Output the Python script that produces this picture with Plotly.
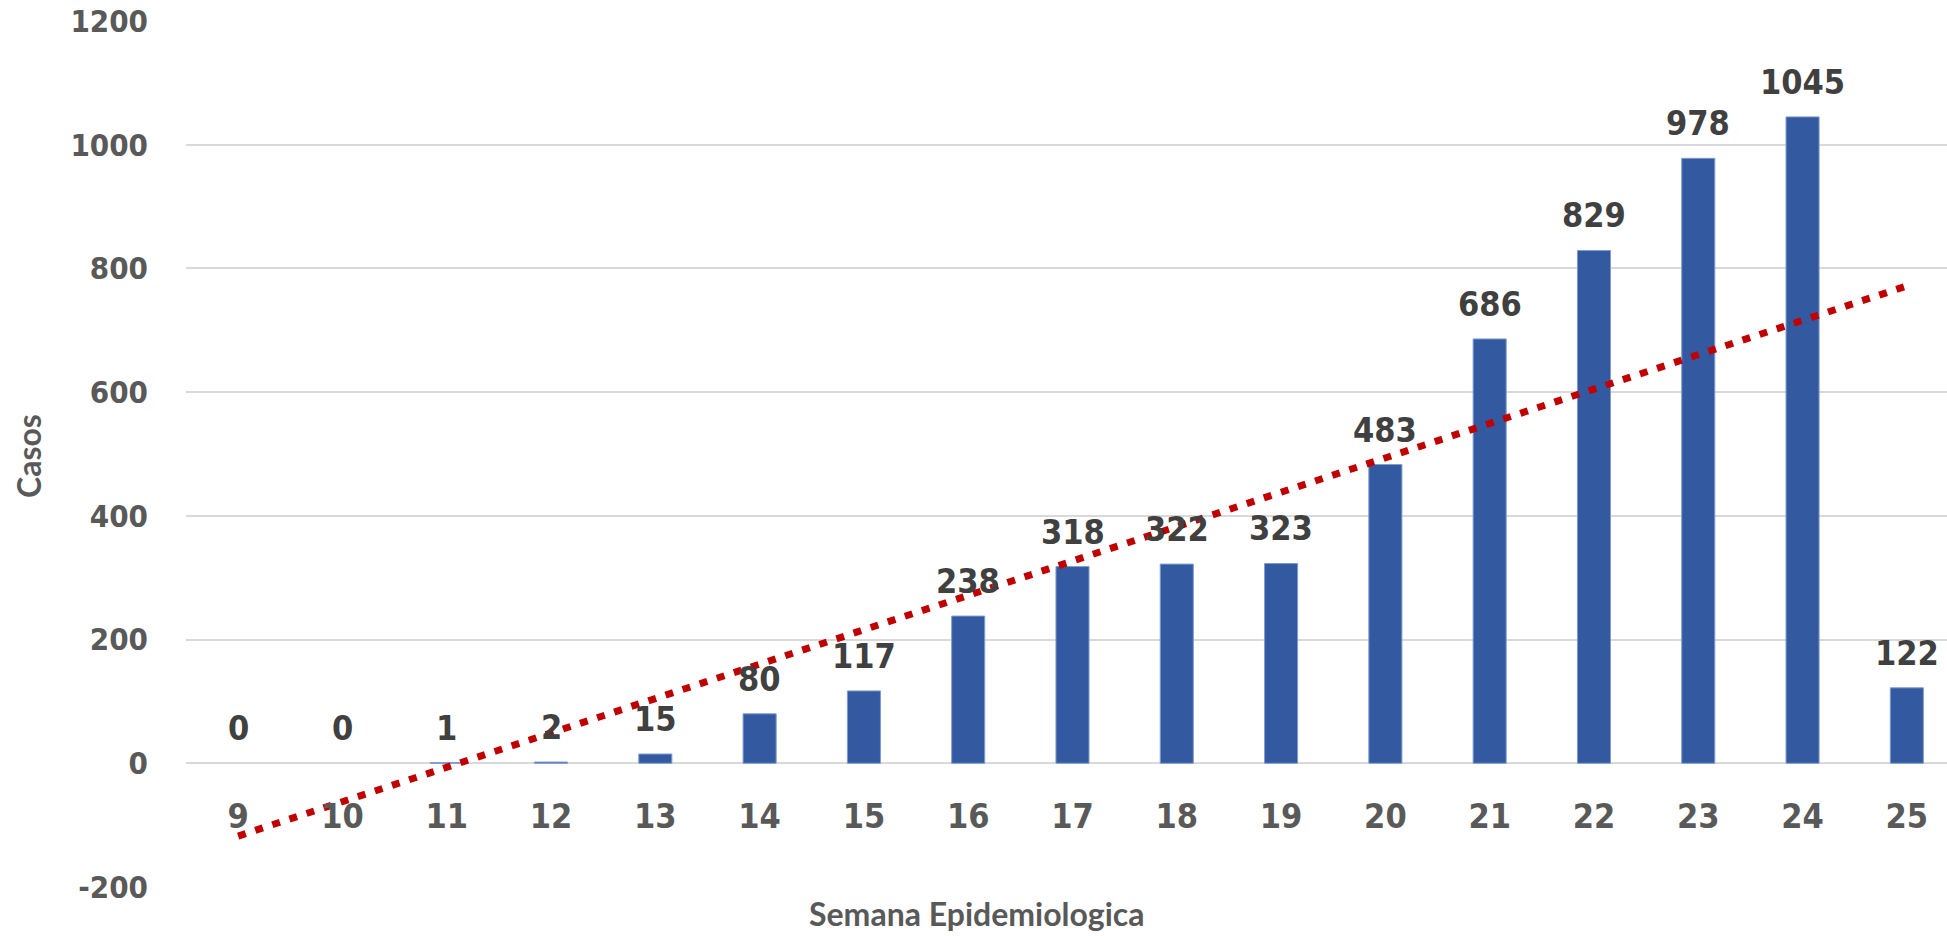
import numpy as np
import plotly.graph_objects as go

# ---- data ----
weeks = list(range(9, 26))
casos = [0, 0, 1, 2, 15, 80, 117, 238, 318, 322, 323, 483, 686, 829, 978, 1045, 122]
y_ticks = [-200, 0, 200, 400, 600, 800, 1000, 1200]
y_ticktext = ["-200", "0", "200", "400", "600", "800", "1000", "1200"]
x_title = "Semana Epidemiologica"
y_title = "Casos"

# linear trendline (as Excel's) computed from the data
slope, intercept = np.polyfit(weeks, casos, 1)
trend_x = [weeks[0], weeks[-1]]
trend_y = [slope * x + intercept for x in trend_x]

NUM_FONT = "DejaVu Sans Condensed, DejaVu Sans, sans-serif"
TXT_FONT = "Lato, Open Sans, sans-serif"

fig = go.Figure()
fig.add_trace(go.Bar(
    x=weeks, y=casos, width=0.317,
    marker=dict(color="#335AA0",
                line=dict(color="#7F9BCF", width=[0 if c == 0 else 1 for c in casos])),
    hoverinfo="x+y",
))
fig.add_trace(go.Scatter(
    x=trend_x, y=trend_y, mode="lines",
    line=dict(color="#C00000", width=7, dash="8px,10px"),
    hoverinfo="skip",
))

annotations = []
for w, c in zip(weeks, casos):
    annotations.append(dict(
        x=w, y=c, xref="x", yref="y", text=str(c), showarrow=False,
        yanchor="middle", yshift=35,
        font=dict(family=NUM_FONT, size=34, color="#404040", weight="bold"),
    ))
annotations.append(dict(
    x=0.449, y=0, xref="paper", yref="paper", text=x_title, showarrow=False,
    xanchor="center", yanchor="middle", yshift=-26,
    font=dict(family=TXT_FONT, size=32, color="#595959", weight="bold"),
))
annotations.append(dict(
    x=0, y=0.4977, xref="paper", yref="paper", text=y_title, showarrow=False,
    xanchor="center", yanchor="middle", xshift=-157, textangle=-90,
    font=dict(family=TXT_FONT, size=32, color="#595959", weight="bold"),
))

fig.update_layout(
    width=1947, height=936,
    margin=dict(l=186, r=0, t=21, b=49, pad=0),
    paper_bgcolor="white", plot_bgcolor="white",
    showlegend=False,
    annotations=annotations,
    xaxis=dict(
        range=[8.5, 25.385], tickvals=weeks, ticktext=[str(w) for w in weeks],
        anchor="free", position=1 / 7,
        showgrid=False, zeroline=False, showline=False, ticks="",
        ticklabelstandoff=30,
        tickfont=dict(family=NUM_FONT, size=34, color="#595959", weight="bold"),
    ),
    yaxis=dict(
        range=[-200, 1200], tickvals=y_ticks, ticktext=y_ticktext,
        showgrid=True, gridcolor="#D9D9D9", gridwidth=2,
        zeroline=True, zerolinecolor="#D9D9D9", zerolinewidth=2,
        showline=False, ticks="",
        ticklabelstandoff=37,
        tickfont=dict(family=NUM_FONT, size=31, color="#595959", weight="bold"),
    ),
)

fig.write_html("out.html", config={"displayModeBar": False},
               post_script="document.body.style.margin='0';")
